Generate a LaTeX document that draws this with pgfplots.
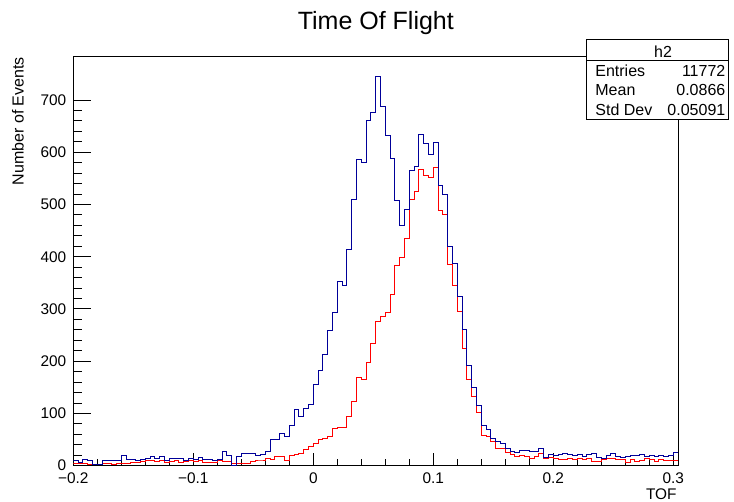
\documentclass[border=0pt]{standalone}
\usepackage{pgfplots}
\pgfplotsset{compat=1.18}
\usepackage{pgfplotstable}
\usepackage{fontspec}
\setmainfont{Liberation Sans}
\definecolor{hblue}{RGB}{0,0,153}
\definecolor{hred}{RGB}{255,0,0}
\pgfplotstableread{
x b r
-0.200 9 5
-0.196 7 5
-0.192 12 4
-0.188 10 3
-0.184 3 3
-0.180 3 3
-0.176 9 4
-0.172 10 4
-0.168 10 3
-0.164 10 5
-0.160 19 5
-0.156 12 5
-0.152 12 7
-0.148 10 7
-0.144 12 8
-0.140 14 9
-0.136 18 10
-0.132 14 8
-0.128 18 9
-0.124 10 7
-0.120 13 8
-0.116 14 9
-0.112 14 7
-0.108 10 8
-0.104 14 10
-0.100 12 8
-0.096 15 9
-0.092 12 7
-0.088 12 6
-0.084 10 7
-0.080 11 9
-0.076 27 8
-0.072 20 8
-0.068 0 4
-0.064 17 4
-0.060 23 4
-0.056 23 5
-0.052 23 8
-0.048 20 9
-0.044 22 9
-0.040 28 14
-0.036 50 12
-0.032 50 18
-0.028 62 17
-0.024 55 10
-0.020 76 20
-0.016 108 22
-0.012 94 24
-0.008 109 31
-0.004 117 36
0.000 156 42
0.004 182 50
0.008 212 52
0.012 259 56
0.016 293 72
0.020 352 73
0.024 345 74
0.028 413 94
0.032 509 122
0.036 586 168
0.040 581 165
0.044 661 198
0.048 677 234
0.052 746 277
0.056 687 285
0.060 632 294
0.064 589 327
0.068 507 384
0.072 459 399
0.076 491 435
0.080 565 509
0.084 572 524
0.088 634 567
0.092 616 555
0.096 596 552
0.100 618 570
0.104 536 488
0.108 519 480
0.112 420 385
0.116 387 345
0.120 324 295
0.124 261 225
0.128 191 165
0.132 150 132
0.136 115 101
0.140 76 58
0.144 69 55
0.148 52 46
0.152 47 33
0.156 42 33
0.160 32 25
0.164 28 21
0.168 25 18
0.172 30 20
0.176 30 18
0.180 28 14
0.184 27 17
0.188 33 23
0.192 16 14
0.196 22 15
0.200 20 13
0.204 22 11
0.208 24 12
0.212 21 14
0.216 20 12
0.220 21 13
0.224 18 11
0.228 22 14
0.232 24 8
0.236 16 8
0.240 13 12
0.244 19 13
0.248 24 13
0.252 18 11
0.256 16 12
0.260 18 6
0.264 19 12
0.268 19 8
0.272 22 10
0.276 18 13
0.280 19 11
0.284 17 8
0.288 19 11
0.292 18 10
0.296 19 10
0.300 25 9
0.304 25 9
}\histdata

\begin{document}
\begin{tikzpicture}
\path[use as bounding box] (-36.65pt,-18.15pt) rectangle (330.35pt,232.85pt);
\begin{axis}[
  at={(0pt,0pt)}, anchor=south west,
  scale only axis, width=302.5pt, height=204.5pt,
  xmin=-0.2, xmax=0.30417, ymin=0, ymax=783,
  xtick={-0.2,-0.1,0,0.1,0.2,0.3},
  xticklabels={−0.2,−0.1,0,0.1,0.2,0.3},
  ytick={0,100,200,300,400,500,600,700},
  minor x tick num=4, minor y tick num=4,
  tick align=inside, xtick pos=bottom, ytick pos=left,
  xtick style={/pgfplots/major tick length=6.5pt,/pgfplots/minor tick length=3.3pt, black, line width=0.5pt},
  ytick style={/pgfplots/major tick length=8.8pt,/pgfplots/minor tick length=4.5pt, black, line width=0.5pt},
  tick label style={font=\fontsize{7.7pt}{9pt}\selectfont},
  /pgf/number format/assume math mode=true,
  axis line style={line width=0.5pt},
]
\addplot[const plot mark left, hred, line width=0.5pt] table[x=x,y=r] {\histdata};
\addplot[const plot mark left, hblue, line width=0.5pt] table[x=x,y=b] {\histdata};
\end{axis}
\node[anchor=base, inner sep=0pt, font=\fontsize{12.5pt}{15pt}\selectfont] at (151.25pt,217.85pt) {Time Of Flight};
\node[rotate=90, anchor=east, inner sep=0pt, font=\fontsize{8pt}{10pt}\selectfont] at (-27.65pt,204.5pt) {Number of Events};
\node[anchor=east, inner sep=0pt, font=\fontsize{7.7pt}{9pt}\selectfont] at (301.85pt,-14.5pt) {TOF};
\draw[line width=0.5pt, fill=white] (256.7pt,172.85pt) rectangle (327.5pt,213.2pt);
\draw[line width=0.5pt] (256.7pt,202.35pt) -- (327.5pt,202.35pt);
\begin{scope}[every node/.style={inner sep=0pt, font=\fontsize{8pt}{10pt}\selectfont}]
\node[anchor=center] at (294.85pt,207pt) {h2};
\node[anchor=west] at (260.85pt,197.35pt) {Entries};
\node[anchor=east] at (326.2pt,197.35pt) {11772};
\node[anchor=west] at (260.85pt,187.85pt) {Mean};
\node[anchor=east] at (326.2pt,187.85pt) {0.0866};
\node[anchor=west] at (260.85pt,177.85pt) {Std Dev};
\node[anchor=east] at (326.2pt,177.85pt) {0.05091};
\end{scope}
\end{tikzpicture}
\end{document}
